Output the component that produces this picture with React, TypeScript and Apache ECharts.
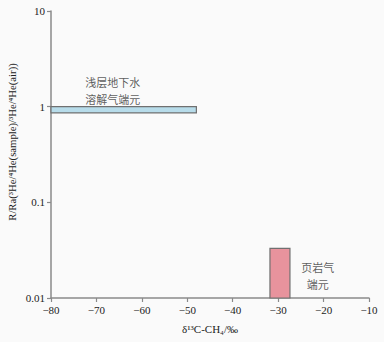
import React, { useEffect, useRef } from "react";
import * as echarts from "echarts";

// End-member boxes (δ13C-CH4 range × R/Ra range)
const endMemberNames = ["浅层地下水\n溶解气端元", "页岩气\n端元"];
const deltaMin = [-80, -31.8];
const deltaMax = [-48, -27.4];
const ratioMin = [0.86, 0.01];
const ratioMax = [1.0, 0.033];
const fillColors = ["#b7dcea", "#e8939d"];
// Label anchor points (data coordinates)
const labelDelta = [-66.4, -21.3];
const labelRatio = [1.48, 0.0171];
// Axes
const xMin = -80;
const xMax = -10;
const xStep = 10;
const yMin = 0.01;
const yMax = 10;
const xTitle = "δ¹³C-CH₄/‰";
const yTitle = "R/Ra(³He/⁴He(sample)/³He/⁴He(air))";

const serif = "'Liberation Serif', 'DejaVu Serif', serif";
const cjk = "'Noto Sans CJK SC', sans-serif";

export default function App() {
  const ref = useRef<HTMLDivElement>(null);
  useEffect(() => {
    if (!ref.current) return;
    const chart = echarts.init(ref.current, null, { renderer: "svg" });
    const boxData = endMemberNames.map((n, i) => [deltaMin[i], deltaMax[i], ratioMin[i], ratioMax[i], i]);
    const labelData = endMemberNames.map((n, i) => ({ name: n, value: [labelDelta[i], labelRatio[i]] }));
    chart.setOption({
      animation: false,
      backgroundColor: "#fafafa",
      grid: { left: 51, right: 15, top: 11, bottom: 44 },
      graphic: [
        {
          type: "text",
          x: 12,
          y: 142,
          rotation: Math.PI / 2,
          style: {
            text: yTitle,
            fontFamily: serif,
            fontSize: 10.7,
            fill: "#222",
            align: "center",
            verticalAlign: "middle",
          },
        },
      ],
      xAxis: {
        type: "value",
        min: xMin,
        max: xMax,
        interval: xStep,
        name: xTitle,
        nameLocation: "middle",
        nameGap: 25,
        nameTextStyle: { fontFamily: serif, fontSize: 11, color: "#222" },
        axisLine: { lineStyle: { color: "#8a8a8a", width: 1.5 } },
        axisTick: { show: true, length: 4, lineStyle: { color: "#8a8a8a", width: 1.2 } },
        axisLabel: {
          fontFamily: serif,
          fontSize: 11,
          color: "#222",
          margin: 6,
          formatter: (v: number) => String(v).replace("-", "\u2212"),
        },
        splitLine: { show: false },
      },
      yAxis: {
        type: "log",
        logBase: 10,
        min: yMin,
        max: yMax,
        axisLine: { show: true, lineStyle: { color: "#8a8a8a", width: 1.5 } },
        axisTick: { show: true, length: 4, lineStyle: { color: "#8a8a8a", width: 1.2 } },
        minorTick: { show: false },
        axisLabel: {
          fontFamily: serif,
          fontSize: 11,
          color: "#222",
          margin: 6,
          formatter: (v: number) => String(Number(v.toPrecision(3))),
        },
        splitLine: { show: false },
      },
      series: [
        {
          type: "custom",
          data: boxData,
          encode: { x: [0, 1], y: [2, 3] },
          renderItem: (params: any, api: any) => {
            const p0 = api.coord([api.value(0), api.value(3)]);
            const p1 = api.coord([api.value(1), api.value(2)]);
            const idx = api.value(4);
            return {
              type: "rect",
              shape: { x: p0[0], y: p0[1], width: p1[0] - p0[0], height: p1[1] - p0[1] },
              style: { fill: fillColors[idx], stroke: "#707070", lineWidth: 1.2 },
            };
          },
          z: 1,
        },
        {
          type: "scatter",
          data: labelData,
          symbolSize: 0,
          silent: true,
          label: {
            show: true,
            position: "inside",
            formatter: (p: any) => p.name,
            fontFamily: cjk,
            fontSize: 11,
            lineHeight: 17,
            color: "#333",
            align: "center",
          },
          z: 3,
        },
      ],
    });
    return () => chart.dispose();
  }, []);
  return (
    <div
      ref={ref}
      style={{ position: "fixed", left: 0, top: 0, width: 384, height: 342, background: "#fafafa" }}
    />
  );
}
